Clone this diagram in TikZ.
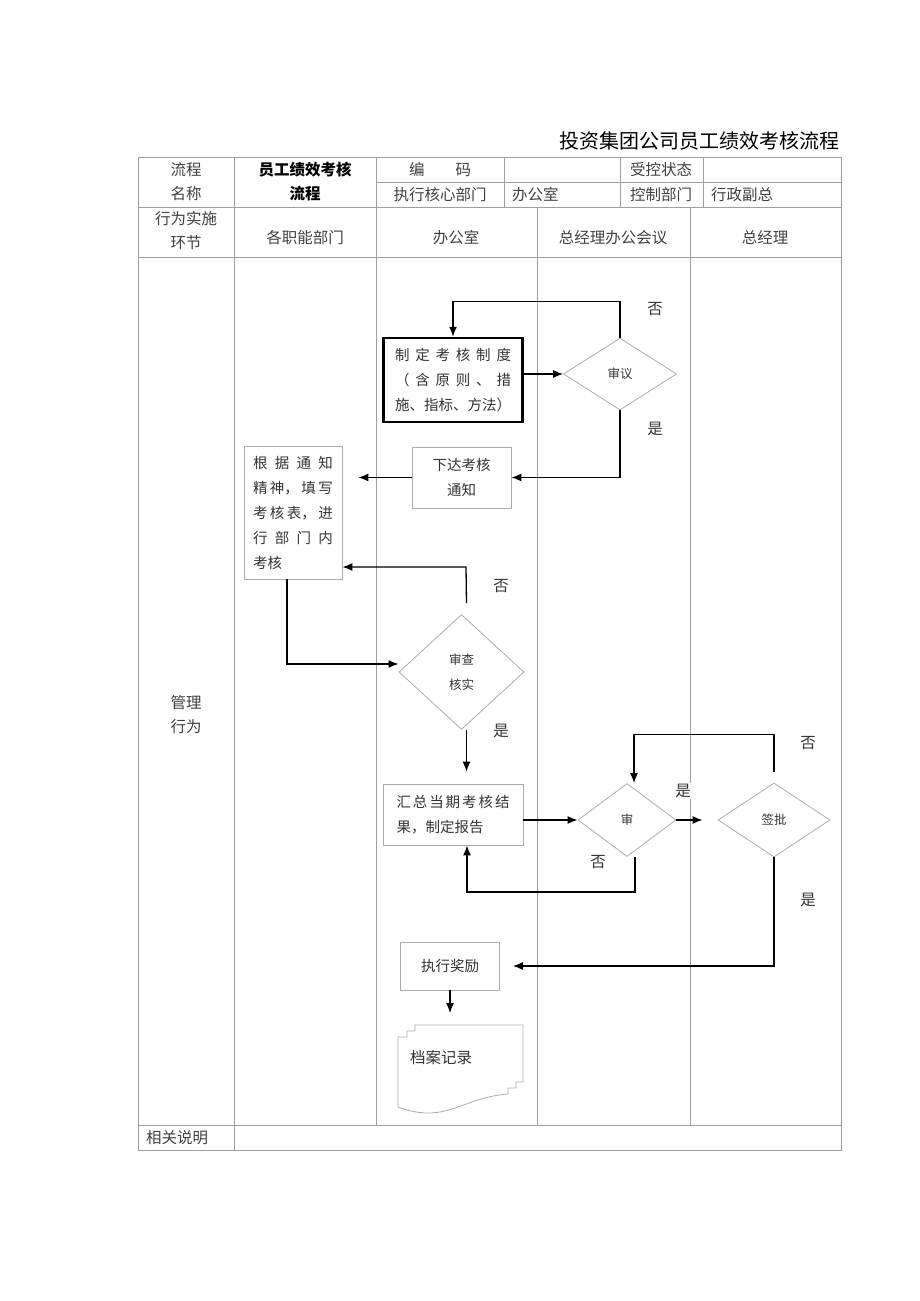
\documentclass[tikz,border=0pt]{standalone}
\usepackage{fontspec}
\setmainfont{Noto Sans CJK SC}
\usetikzlibrary{positioning, shapes.geometric, arrows.meta, calc}

\tikzset{
  grid/.style={draw=gray!75, line width=0.8pt},
  cell/.style={font=\fontsize{15.5}{24}\selectfont, text=black!75, align=center, inner sep=0pt},
  box/.style={draw=gray!65, line width=0.8pt, inner sep=0pt, align=center, text=black!80,
    font=\fontsize{14.5}{25}\selectfont},
  decision/.style={diamond, draw=gray!65, line width=0.8pt, inner sep=0pt, align=center,
    text=black!80, font=\fontsize{12.5}{25}\selectfont},
  arrow/.style={-{Latex[length=10pt,width=8pt]}, line width=1.3pt},
  lbl/.style={font=\fontsize{15.5}{18}\selectfont, text=black!80, inner sep=1pt},
}

\begin{document}
\begin{tikzpicture}[x=1pt, y=-1pt]
    \useasboundingbox (0,0) rectangle (920,1301);

    % Title
    \node[anchor=east, font=\fontsize{20}{24}\selectfont] (title) at (843,141) {投资集团公司员工绩效考核流程};

    % Table frame and rules
    \draw[grid] (138,157) rectangle (841,1150);
    \draw[grid] (376,182) -- (841,182);
    \foreach \y in {207,257,1125} {
      \draw[grid] (138,\y) -- (841,\y);
    }
    \foreach \x in {504,620,703} {
      \draw[grid] (\x,157) -- (\x,207);
    }
    \draw[grid] (234,157) -- (234,1150);
    \draw[grid] (376,157) -- (376,1125);
    \foreach \x in {537,690} {
      \draw[grid] (\x,207) -- (\x,1125);
    }

    % Header cells
    \node[cell] (liucheng) at (186,182) {流程\\名称};
    \node[cell, text=black, font=\bfseries\fontsize{15.5}{24}\selectfont] (mingcheng) at (305,182) {员工绩效考核\\流程};
    \node[cell] (bianma) at (440,170) {编\hspace{2em}码};
    \node[cell] (shoukong) at (661,170) {受控状态};
    \node[cell] (zhixing) at (440,195) {执行核心部门};
    \node[cell, anchor=west] (bangong) at (512,195) {办公室};
    \node[cell] (kongzhi) at (661,195) {控制部门};
    \node[cell, anchor=west] (xingzheng) at (711,195) {行政副总};

    % Lane headers
    \node[cell] (huanjie) at (186,231) {行为实施\\环节};
    \node[cell] (lane1) at (305,238) {各职能部门};
    \node[cell] (lane2) at (456,238) {办公室};
    \node[cell] (lane3) at (613,238) {总经理办公会议};
    \node[cell] (lane4) at (765,238) {总经理};
    \node[cell] (guanli) at (186,715) {管理\\行为};
    \node[cell, anchor=west] (xiangguan) at (146,1138) {相关说明};

    % Steps
    \node[box, draw=black, line width=2.5pt, minimum width=139pt, minimum height=84pt] (zhiding) at (453,380)
      {\makebox[116pt][s]{制\hfill 定\hfill 考\hfill 核\hfill 制\hfill 度}\\
       \makebox[116pt][s]{（\hfill 含\hfill 原\hfill 则\hfill 、\hfill 措}\\
       \makebox[116pt][s]{施、指标、方法）}};
    \node[decision, minimum width=113pt, minimum height=72pt] (shenyi) at (620,374) {审议};
    \node[box, minimum width=99pt, minimum height=61pt] (xiada) at (461.5,477.5) {下达考核\\通知};
    \node[box, minimum width=98pt, minimum height=133pt] (genju) at (293,512.5)
      {\makebox[80pt][s]{根\hfill 据\hfill 通\hfill 知}\\
       \makebox[80pt][s]{精\hfill 神，\hfill 填\hfill 写}\\
       \makebox[80pt][s]{考\hfill 核\hfill 表，\hfill 进}\\
       \makebox[80pt][s]{行\hfill 部\hfill 门\hfill 内}\\
       \makebox[80pt][l]{考核}};
    \node[decision, minimum width=125pt, minimum height=115pt] (shenhe) at (461.5,672) {审查\\核实};
    \node[box, minimum width=140pt, minimum height=61pt] (huizong) at (453,814.5)
      {\makebox[113pt][s]{汇\hfill 总\hfill 当\hfill 期\hfill 考\hfill 核\hfill 结}\\
       \makebox[113pt][l]{果，制定报告}};
    \node[decision, minimum width=98pt, minimum height=73pt] (shen) at (627,820) {审};
    \node[decision, minimum width=112pt, minimum height=74pt] (qianpi) at (774,820) {签批};
    \node[box, minimum width=99pt, minimum height=48pt] (jiangli) at (450,966) {执行奖励};

    % Archive document
    \draw[gray!65, line width=0.8pt] (415,1025) -- (523,1025) -- (523,1082) -- (516,1082) -- (516,1088)
      -- (508,1088) -- (508,1094) .. controls (470,1097) and (455,1114) .. (425,1113)
      .. controls (412,1112) and (403,1109) .. (398,1107) -- (398,1037) -- (407,1037)
      -- (407,1031) -- (415,1031) -- cycle;
    \node[lbl] (dangan) at (441,1058) {档案记录};
    \coordinate (dtop) at (450,1013);

    % Connectors
    \draw[arrow] (shenyi.west -| zhiding.east) -- (shenyi.west);
    \draw[arrow] (shenyi.north) -- ++(0,-36) -| (zhiding.north);
    \draw[arrow] (shenyi.south) |- (xiada.east);
    \draw[arrow, shorten >=16pt] (xiada.west) -- (xiada.west -| genju.east);
    \coordinate (turn1) at (287,664);
    \draw[arrow] (genju.south -| turn1) -- (turn1) -- (shenhe.west |- turn1);
    \coordinate (back1) at (466,567);
    \draw[arrow] ($(shenhe.north)+(5,-11)$) -- (back1) -- (back1 -| genju.east);
    \draw[arrow, shorten >=12pt] ($(shenhe.south)+(5,0)$) -- ($(shenhe.south |- huizong.north)+(5,0)$);
    \draw[arrow] (shen.west -| huizong.east) -- (shen.west);
    \draw[arrow, shorten >=15pt] (shen.east) -- (qianpi.west);
    \draw[arrow] ($(shen.south)+(8,0)$) -- ++(0,35) -| ($(huizong.south)+(14,0)$);
    \draw[arrow] ($(qianpi.north)+(0,-11)$) -- ++(0,-37) -| ($(shen.north)+(7,0)$);
    \draw[arrow, shorten >=13pt] (qianpi.south) |- (jiangli.east);
    \draw[arrow] (jiangli.south) -- (dtop);

    % Branch labels
    \node[lbl] (no1) at (655,309) {否};
    \node[lbl] (yes1) at (655,429) {是};
    \node[lbl] (no2) at (501,586) {否};
    \node[lbl] (yes2) at (501,731) {是};
    \node[lbl, fill=white] (yes3) at (683,791) {是};
    \node[lbl] (no3) at (598,862) {否};
    \node[lbl] (no4) at (808,743) {否};
    \node[lbl] (yes4) at (808,900) {是};

\end{tikzpicture}
\end{document}
